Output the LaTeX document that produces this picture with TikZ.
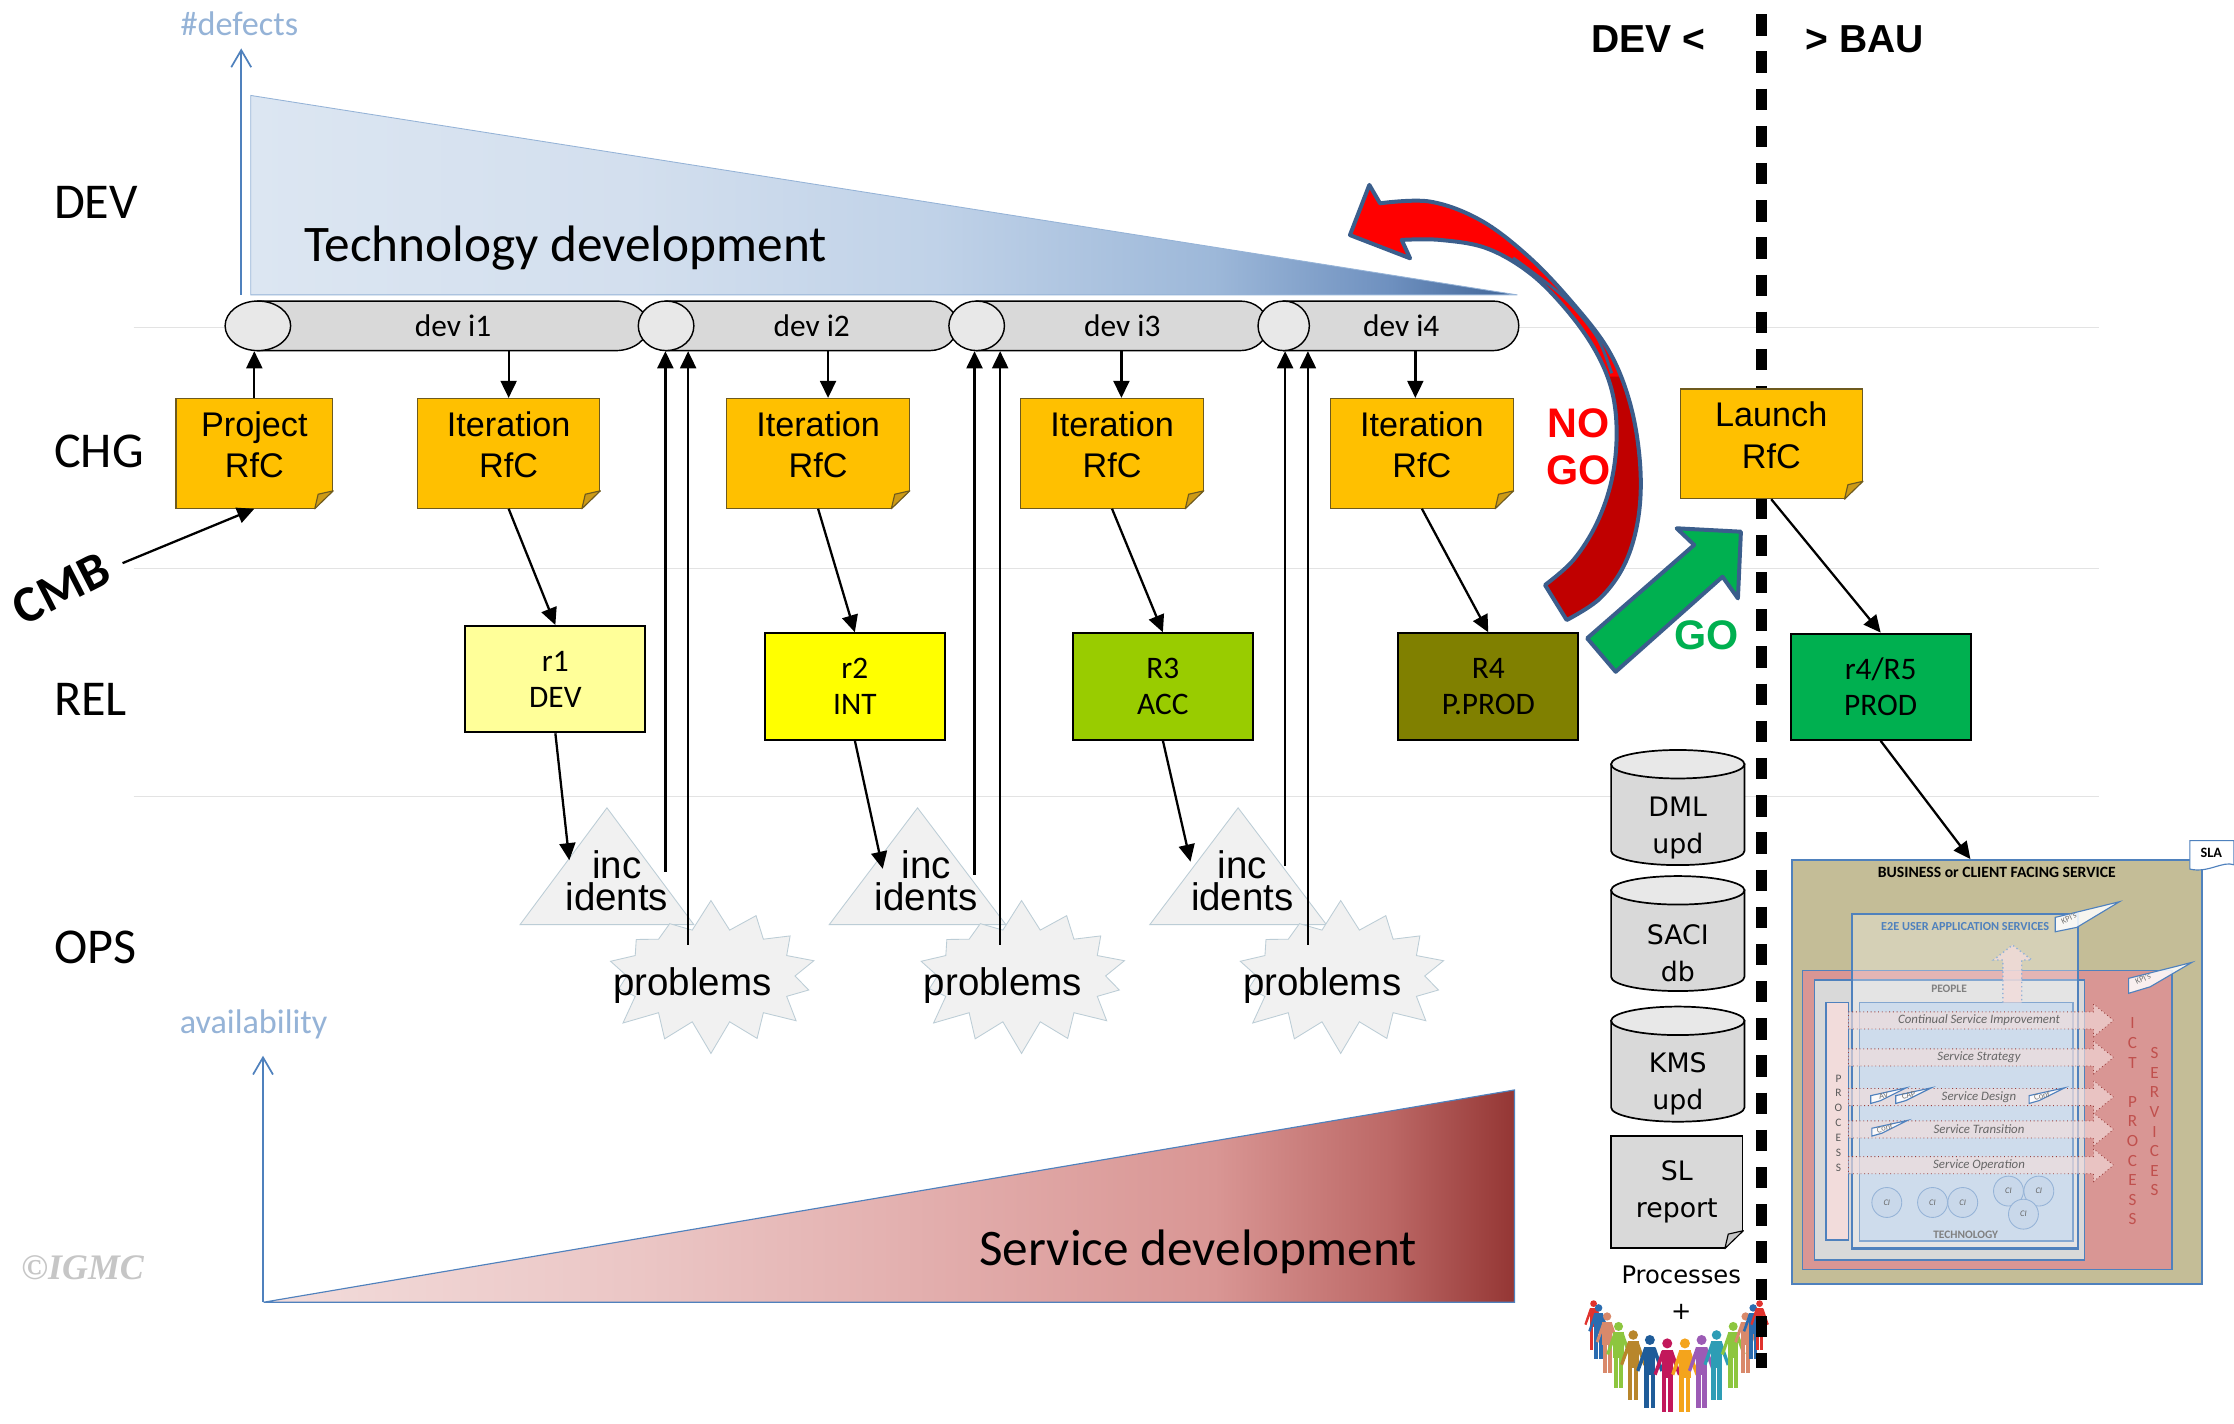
\documentclass[tikz,border=0pt]{standalone}
\usepackage{fontspec}
\setmainfont{Carlito}
\newfontfamily\arialfont{Liberation Sans}
\newfontfamily\verdanafont{DejaVu Sans}
\newfontfamily\timesfont{Liberation Serif}
\usepackage{xcolor}
\usepackage{tikz}
\usetikzlibrary{positioning,arrows.meta,shapes.symbols}

\definecolor{rfcfill}{HTML}{FFC000}
\definecolor{rfcedge}{HTML}{6E5A1E}
\definecolor{rfcfold}{HTML}{CC9A16}
\definecolor{axisblue}{HTML}{4F81BD}
\definecolor{axislight}{HTML}{95B3D7}
\definecolor{tubegray}{HTML}{D9D9D9}
\definecolor{tubeface}{HTML}{E8E8E8}
\definecolor{relA}{HTML}{FFFF99}
\definecolor{relB}{HTML}{FFFF00}
\definecolor{relC}{HTML}{99CC00}
\definecolor{relD}{HTML}{808000}
\definecolor{relE}{HTML}{00B050}
\definecolor{shapegray}{HTML}{F1F1F1}
\definecolor{shapeedge}{HTML}{BCCDD6}
\definecolor{gateedge}{HTML}{3B5E8C}
\definecolor{nogored}{HTML}{FF0000}
\definecolor{nogodark}{HTML}{C00000}
\definecolor{gogreen}{HTML}{00B050}
\definecolor{khaki}{HTML}{C4BD97}
\definecolor{ictred}{HTML}{D99694}
\definecolor{techblue}{HTML}{B9CDE5}
\definecolor{procpink}{HTML}{F2DCDB}
\definecolor{ictletter}{HTML}{C0504D}
\definecolor{cifill}{HTML}{C9D8EA}
\definecolor{techA}{HTML}{DCE6F2}
\definecolor{techB}{HTML}{D3DFEE}
\definecolor{techC}{HTML}{C0D2E8}
\definecolor{techD}{HTML}{9DB8D9}
\definecolor{techE}{HTML}{6E90BF}
\definecolor{techF}{HTML}{3F6496}
\definecolor{servA}{HTML}{F2DCDB}
\definecolor{servB}{HTML}{EBC6C5}
\definecolor{servC}{HTML}{E2ADAC}
\definecolor{servD}{HTML}{D99694}
\definecolor{servE}{HTML}{BC6866}
\definecolor{servF}{HTML}{943634}
\definecolor{pRed}{HTML}{E0322D}
\definecolor{pBlue}{HTML}{2B6CB0}
\definecolor{pSalmon}{HTML}{D9896B}
\definecolor{pGreen}{HTML}{8DC63F}
\definecolor{pBrown}{HTML}{B8862B}
\definecolor{pNavy}{HTML}{1F5C99}
\definecolor{pMagenta}{HTML}{C2185B}
\definecolor{pOrange}{HTML}{F4A41C}
\definecolor{pPurple}{HTML}{9C5BB5}
\definecolor{pTeal}{HTML}{2E9DB5}

\pgfdeclarehorizontalshading{techshade}{100bp}{color(0bp)=(techA); color(25bp)=(techA); color(40bp)=(techB); color(52bp)=(techC); color(63bp)=(techD); color(70bp)=(techE); color(75bp)=(techF); color(100bp)=(techF)}
\pgfdeclarehorizontalshading{servshade}{100bp}{color(0bp)=(servA); color(25bp)=(servA); color(40bp)=(servB); color(52bp)=(servC); color(63bp)=(servD); color(70bp)=(servE); color(75bp)=(servF); color(100bp)=(servF)}

% lying cylinder: left x, right x, end radius
\newcommand{\devtube}[3]{%
  \filldraw[fill=tubegray, line width=0.5pt] ({#1+#3},211.3) -- ({#2-#3},211.3) arc[start angle=90, end angle=-90, x radius=#3*0.5pt, y radius=8.7pt] -- ({#1+#3},246.1) -- cycle;
  \filldraw[fill=tubeface, line width=0.5pt] ({#1+#3},228.7) ellipse[x radius=#3*0.5pt, y radius=8.7pt];}
% folded corner on a note: node, fold colour, edge colour
\newcommand{\dogear}[3]{%
  \fill[white] ([yshift=6.3pt]#1.south east) -- ([xshift=1pt,yshift=6.3pt]#1.south east) -- ([xshift=1pt,yshift=-1pt]#1.south east) -- ([xshift=-6.5pt,yshift=-1pt]#1.south east) -- ([xshift=-6.5pt]#1.south east) -- cycle;
  \filldraw[fill=#2, draw=#3, line width=0.4pt, line join=round] ([yshift=6.3pt]#1.south east) -- ([xshift=-6.5pt]#1.south east) -- ([xshift=-5.3pt,yshift=5.1pt]#1.south east) -- cycle;}
% standing database: top y, bottom y
\newcommand{\dbcyl}[2]{%
  \filldraw[fill=tubegray, line width=0.6pt] (1130.8,{#1+10}) -- (1130.8,{#2-10}) arc[start angle=180, end angle=360, x radius=23.4pt, y radius=5pt] -- (1224.4,{#1+10}) -- cycle;
  \filldraw[fill=tubeface, line width=0.6pt] (1177.6,{#1+10}) ellipse[x radius=23.4pt, y radius=5pt];}
% one figure of the chain: x, y of head, scale, colour
\newcommand{\person}[4]{%
  \begin{scope}[shift={(#1,#2)}, scale=#3]
    \fill[#4] (0,0) circle[radius=3.3];
    \fill[#4] (-3.7,4.4) rectangle (3.7,23);
    \fill[#4] (-3.7,4.6) -- (-9,20) -- (-7,21) -- (-2.6,9) -- cycle;
    \fill[#4] (3.7,4.6) -- (9,20) -- (7,21) -- (2.6,9) -- cycle;
    \fill[#4] (-3.6,22) rectangle (-0.5,45);
    \fill[#4] (0.5,22) rectangle (3.6,45);
  \end{scope}}
% process band with arrow head: centre y, name, label
\newcommand{\procband}[3]{%
  \filldraw[fill=procpink, fill opacity=0.65, draw=ictletter!80!black, densely dotted, line width=0.3pt] (1297.4,{#1-6}) -- (1469.4,{#1-6}) -- (1469.4,{#1-11.5}) -- (1483.4,#1) -- (1469.4,{#1+11.5}) -- (1469.4,{#1+6}) -- (1297.4,{#1+6}) -- cycle;
  \node[bandtext] (#2) at (1389,#1) {#3};}
% small slanted tag: x, y of lower left, name, text
\newcommand{\bandtag}[4]{%
  \filldraw[bandtag] (#1,#2) -- (#1,{#2-5.5}) -- ({#1+25},{#2-11}) -- ({#1+7},{#2-2}) -- cycle;
  \node[tagtext, rotate=14] (#3) at ({#1+9},{#2-5.5}) {#4};}
\newcommand{\nogopath}{(947.5,165) -- (961.1,129.8) -- (968.6,142.7) -- plot[smooth, tension=0.6] coordinates {(968.6,142.7) (1003.7,141.5) (1038.8,154.4) (1071.6,179) (1102,210.6) (1128.9,245.7) (1144.1,283.1) (1151.1,325.2) (1150,362.7) (1140.6,395.4) (1123,420) (1099.6,435.2)} -- (1084.4,410.6) -- plot[smooth, tension=0.6] coordinates {(1084.4,410.6) (1104.3,393.1) (1120.7,367.3) (1131.2,336.9) (1134.7,304.2) (1131.2,273.7) (1119.5,245.7) (1099.6,217.6) (1073.9,191.8) (1043.5,174.3) (1010.7,168.4) (983.8,168.4)} -- (989.7,181.3) -- cycle}

\begin{document}
\begin{tikzpicture}[x=0.5pt, y=-0.5pt,
  lane/.style={draw=gray!22, line width=0.5pt},
  axisarrow/.style={draw=axisblue, line width=0.6pt, -{Straight Barb[length=6pt,width=7pt]}},
  axislabel/.style={text=axislight, inner sep=0pt, font=\fontsize{12}{14}\selectfont},
  lanelabel/.style={anchor=base west, inner sep=0pt, font=\fontsize{17.6}{20}\selectfont},
  bigtext/.style={anchor=base west, inner sep=0pt, font=\fontsize{18}{21}\selectfont},
  tube/.style={inner sep=0pt, minimum height=17.4pt, font=\fontsize{11}{13}\selectfont},
  rfc/.style={draw=rfcedge, fill=rfcfill, line width=0.4pt, minimum width=64pt, minimum height=38.5pt, inner sep=0pt, text depth=6pt, align=center, font=\arialfont\fontsize{12}{14.6}\selectfont},
  rel/.style={draw=black, line width=0.7pt, minimum width=63.2pt, minimum height=37.3pt, inner sep=0pt, align=center, font=\fontsize{11}{12.7}\selectfont},
  arrow/.style={-{Triangle[length=6pt,width=5.6pt]}, line width=0.8pt},
  inc/.style={inner sep=0pt, align=center, font=\arialfont\fontsize{13.5}{11.1}\selectfont},
  incshape/.style={fill=shapegray, draw=shapeedge, line width=0.3pt},
  prob/.style={starburst, starburst points=14, starburst point height=11pt, random starburst=7, fill=shapegray, draw=shapeedge, line width=0.3pt, minimum width=81pt, minimum height=55pt, inner sep=0pt},
  probtext/.style={inner sep=0pt, font=\arialfont\fontsize{13.5}{15}\selectfont},
  gate/.style={draw=gateedge, line width=1.4pt, line join=round},
  gatetext/.style={font=\arialfont\bfseries\fontsize{14.5}{16.5}\selectfont, align=center},
  sidelabel/.style={font=\arialfont\bfseries\fontsize{13.7}{16}\selectfont},
  divider/.style={line width=3.9pt, dash pattern=on 7.5pt off 5.55pt},
  db/.style={inner sep=0pt, align=center, font=\verdanafont\fontsize{9.4}{13}\selectfont},
  ci/.style={circle, draw=axislight, fill=cifill, line width=0.3pt, minimum size=10.5pt, inner sep=0pt, text=black!60, font=\itshape\fontsize{3}{3}\selectfont},
  bandtext/.style={text=black!60, inner sep=0pt, font=\itshape\fontsize{4.5}{5}\selectfont},
  bandtag/.style={fill=white, fill opacity=0.85, draw=axisblue, line width=0.4pt},
  tagtext/.style={text=black!55, inner sep=0pt, font=\fontsize{3}{3}\selectfont},
  boxline/.style={draw=axisblue, line width=0.5pt},
]
\fill[white] (0,0) rectangle (1568,999);
\useasboundingbox (0,0) rectangle (1568,999);

\draw[lane] (93.8,229.8) -- (1473.4,229.8);
\draw[lane] (93.8,398.9) -- (1473.4,398.9);
\draw[lane] (93.8,559.2) -- (1473.4,559.2);

\shadedraw[shading=techshade, draw=axisblue!60, line width=0.3pt] (176,67) -- (1065,207) -- (176,207) -- cycle;
\coordinate (defbase) at (169.3,207);
\coordinate (deftop) at (169.3,34);
\draw[axisarrow] (defbase) -- (deftop);
\node[axislabel] (defects) at (168,17) {\#defects};
\node[bigtext] (techdev) at (213,183.7) {Technology development};

\node[lanelabel] (devlbl) at (37.6,153.7) {DEV};
\node[lanelabel] (chglbl) at (37.6,328) {CHG};
\node[lanelabel] (rellbl) at (37.6,502.3) {REL};
\node[lanelabel] (opslbl) at (37.6,676.2) {OPS};

\devtube{158}{455}{23}
\devtube{448}{672}{19.5}
\devtube{666}{890}{19.5}
\devtube{883}{1066}{18}
\node[tube, minimum width=137pt] (dev1) at (318,228.7) {dev i1};
\node[tube, minimum width=102.25pt] (dev2) at (569.75,228.7) {dev i2};
\node[tube, minimum width=102.25pt] (dev3) at (787.75,228.7) {dev i3};
\node[tube, minimum width=82.5pt] (dev4) at (983.5,228.7) {dev i4};

\node[rfc, minimum width=55pt] (proj) at (178.5,318.2) {Project\\RfC};
\node[rfc] (iter1) at (357,318.2) {Iteration\\RfC};
\node[rfc] (iter2) at (574.2,318.2) {Iteration\\RfC};
\node[rfc] (iter3) at (780.5,318.2) {Iteration\\RfC};
\node[rfc] (iter4) at (998,318.2) {Iteration\\RfC};
\dogear{proj}{rfcfold}{rfcedge}
\dogear{iter1}{rfcfold}{rfcedge}
\dogear{iter2}{rfcfold}{rfcedge}
\dogear{iter3}{rfcfold}{rfcedge}
\dogear{iter4}{rfcfold}{rfcedge}
\draw[arrow] (proj.north) -- (proj.north |- dev1.south);
\draw[arrow] (iter1.north |- dev1.south) -- (iter1.north);
\draw[arrow] ([xshift=3.5pt]iter2.north |- dev2.south) -- ([xshift=3.5pt]iter2.north);
\draw[arrow] ([xshift=3.3pt]iter3.north |- dev3.south) -- ([xshift=3.3pt]iter3.north);
\draw[arrow] ([xshift=-2.3pt]iter4.north |- dev4.south) -- ([xshift=-2.3pt]iter4.north);

\node[rel, fill=relA] (r1) at (389.8,476.7) {r1\\DEV};
\node[rel, fill=relB] (r2) at (600,481.8) {r2\\INT};
\node[rel, fill=relC] (r3) at (816.2,481.8) {R3\\ACC};
\node[rel, fill=relD] (r4) at (1044.6,481.8) {R4\\P.PROD};
\draw[arrow] (iter1.south) -- (r1.north);
\draw[arrow] (iter2.south) -- (r2.north);
\draw[arrow] (iter3.south) -- (r3.north);
\draw[arrow] (iter4.south) -- (r4.north);

\filldraw[incshape] (426,567) -- (487,649) -- (365,649) -- cycle;
\filldraw[incshape] (644,567) -- (706,649) -- (582,649) -- cycle;
\filldraw[incshape] (869,567) -- (931,649) -- (807,649) -- cycle;
\node[prob, label={[probtext, name=prob1t, xshift=-6.5pt, yshift=-3.5pt]center:problems}] (prob1) at (499,685) {};
\node[prob, label={[probtext, name=prob2t, xshift=-6.5pt, yshift=-3.5pt]center:problems}] (prob2) at (717,685) {};
\node[prob, label={[probtext, name=prob3t, xshift=-6.5pt, yshift=-3.5pt]center:problems}] (prob3) at (941,685) {};
\node[inc] (inc1) at (433,618) {inc\\idents};
\node[inc] (inc2) at (650,618) {inc\\idents};
\node[inc] (inc3) at (872,618) {inc\\idents};
\draw[arrow] (r1.south) -- ([xshift=1.5pt,yshift=-3.6pt]inc1.north west);
\draw[arrow] (r2.south) -- ([xshift=3pt,yshift=-6.6pt]inc2.north west);
\draw[arrow] (r3.south) -- ([yshift=-4.1pt]inc3.north west);

\coordinate (up1a) at ([xshift=17pt,yshift=3pt]inc1.center);
\coordinate (up1b) at ([xshift=-8pt,yshift=11pt]prob1.center);
\coordinate (up2a) at ([xshift=17pt,yshift=2pt]inc2.center);
\coordinate (up2b) at ([xshift=-7.5pt,yshift=11pt]prob2.center);
\coordinate (up3a) at ([xshift=15pt,yshift=5pt]inc3.center);
\coordinate (up3b) at ([xshift=-11.5pt,yshift=11pt]prob3.center);
\draw[arrow] (up1a) -- (up1a |- dev2.south);
\draw[arrow] (up1b) -- (up1b |- dev2.south);
\draw[arrow] (up2a) -- (up2a |- dev3.south);
\draw[arrow] (up2b) -- (up2b |- dev3.south);
\draw[arrow] (up3a) -- (up3a |- dev4.south);
\draw[arrow] (up3b) -- (up3b |- dev4.south);

\fill[nogored] \nogopath;
\begin{scope}
  \clip \nogopath;
  \fill[nogodark] plot[smooth, tension=0.6] coordinates {(1137,264.4) (1144.1,283.1) (1151.1,325.2) (1150,362.7) (1140.6,395.4) (1123,420) (1099.6,435.2)} -- (1084.4,410.6) -- plot[smooth, tension=0.6] coordinates {(1084.4,410.6) (1104.3,393.1) (1120.7,367.3) (1131.2,336.9) (1134.7,304.2) (1131.2,273.7) (1127.7,264.4)} -- cycle;
\end{scope}
\draw[draw=gateedge, line width=1pt] plot[smooth] coordinates {(1062,181) (1097.3,208.2) (1120.7,236.3) (1131.2,262)};
\draw[gate] \nogopath;
\node[gatetext, text=nogored] (nogo) at (1108,313.5) {NO\\GO};

\filldraw[gate, fill=gogreen] (1114,448) -- (1189.1,382.5) -- (1176.8,370.8) -- (1221.9,373.2) -- (1219.8,420) -- (1209,404.8) -- (1134,471.5) -- cycle;
\node[gatetext, text=gogreen] (go) at (1198,446) {GO};

\shadedraw[shading=servshade, draw=axisblue, line width=0.4pt] (185,914) -- (1063,765) -- (1063,914) -- cycle;
\coordinate (avbase) at (184.6,914);
\coordinate (avtop) at (184.6,741);
\draw[axisarrow] (avbase) -- (avtop);
\node[axislabel] (avail) at (178,719) {availability};
\node[bigtext] (servdev) at (687,887.9) {Service development};
\node[text=gray!45, font=\timesfont\bfseries\itshape\fontsize{12.6}{14}\selectfont] (igmc) at (58,890) {\textcopyright IGMC};

\node[rotate=27, font=\bfseries\fontsize{18}{20}\selectfont] (cmb) at (43,413) {CMB};
\draw[arrow, shorten <=2pt] (cmb) -- (proj.south);

\dbcyl{526.4}{607.2}
\dbcyl{614.9}{695.6}
\dbcyl{706.5}{787.3}
\node[db] (dml) at (1177.6,581) {DML\\upd};
\node[db] (saci) at (1177.6,669) {SACI\\db};
\node[db] (kms) at (1177.6,760.5) {KMS\\upd};
\node[db, draw, fill=tubegray, line width=0.6pt, minimum width=46.1pt, minimum height=39.2pt] (slrep) at (1176.9,836.6) {SL\\report};
\dogear{slrep}{gray!45}{black}
\node[font=\verdanafont\fontsize{8.5}{10}\selectfont] (procs) at (1180,895) {Processes};
\node[below=2.5pt of procs, inner sep=1pt, font=\verdanafont\fontsize{8.5}{10}\selectfont] (plus) {+};

\person{1118.5}{915}{0.72}{pRed}
\person{1122}{918}{0.8}{pBlue}
\person{1128}{924}{0.88}{pSalmon}
\person{1136}{931}{0.96}{pGreen}
\person{1146.3}{937}{1.02}{pBrown}
\person{1158}{940.5}{1.06}{pNavy}
\person{1170.2}{942.9}{1.07}{pMagenta}
\person{1182.6}{942.9}{1.07}{pOrange}
\person{1194.3}{940.5}{1.06}{pPurple}
\person{1204.8}{937}{1.02}{pTeal}
\person{1216.5}{931}{0.96}{pGreen}
\person{1225.2}{924}{0.88}{pSalmon}
\person{1230.5}{918}{0.8}{pBlue}
\person{1235}{915}{0.72}{pRed}

\draw[divider] (1236.2,10) -- (1236.2,960);
\node[sidelabel] (devside) at (1157,27.3) {DEV <};
\node[sidelabel] (bauside) at (1309,27.3) {> BAU};

\node[rfc] (launch) at (1243.2,311.5) {Launch\\RfC};
\dogear{launch}{rfcfold}{rfcedge}
\node[rel, fill=relE] (r45) at (1320,482) {r4/R5\\PROD};
\draw[arrow] (launch.south) -- (r45.north);

\node[draw=axisblue, fill=khaki, line width=0.6pt, minimum width=143.8pt, minimum height=148.7pt, inner sep=0pt] (biz) at (1401.8,752.3) {};
\node[font=\bfseries\fontsize{5.5}{6}\selectfont] (biztitle) at (1401.5,612.5) {BUSINESS or CLIENT FACING SERVICE};
\filldraw[boxline, fill=ictred] (1265,681.3) rectangle (1524.4,891);
\filldraw[boxline, fill=gray!30] (1273.5,687.9) rectangle (1463,884.4);
\filldraw[boxline, fill=techblue] (1305,703.8) rectangle (1454.9,870.9);
\filldraw[boxline, fill=procpink] (1281.5,703.8) rectangle (1297.4,870.4);
\filldraw[draw=axisblue, line width=0.8pt, fill=white, fill opacity=0.3] (1299.7,641.5) rectangle (1458.4,876.3);
\node[text=axisblue, font=\bfseries\fontsize{4.3}{5}\selectfont] (e2e) at (1379.3,650) {E2E USER APPLICATION SERVICES};
\node[text=gray, font=\bfseries\fontsize{4}{5}\selectfont] (people) at (1368,693.7) {PEOPLE};
\node[text=gray, font=\bfseries\fontsize{4}{5}\selectfont] (techno) at (1379.7,866.4) {TECHNOLOGY};
\filldraw[fill=procpink, fill opacity=0.8, draw=axislight, densely dotted, line width=0.5pt] (1405.7,703.8) -- (1405.7,673.8) -- (1399.2,673.8) -- (1412.5,663.3) -- (1426.1,673.8) -- (1419,673.8) -- (1419,703.8);
\procband{716.2}{csi}{Continual Service Improvement}
\procband{742.2}{strat}{Service Strategy}
\procband{770}{design}{Service Design}
\procband{792.7}{trans}{Service Transition}
\procband{817.8}{oper}{Service Operation}
\bandtag{1313}{774.5}{avtag}{AV}
\bandtag{1330.6}{774.5}{captag}{CAP}
\bandtag{1424.2}{774.5}{conftag}{Conf}
\bandtag{1313.8}{797.4}{conftagb}{Conf}
\node[ci] (ci1) at (1324.3,844) {CI};
\node[ci] (ci2) at (1356.4,844) {CI};
\node[ci] (ci3) at (1377.6,844) {CI};
\node[ci] (ci4) at (1409.7,836) {CI};
\node[ci] (ci5) at (1431,836) {CI};
\node[ci] (ci6) at (1420.2,852.2) {CI};
\node[align=center, inner sep=0pt, text=gray!70!black, font=\fontsize{4}{5.2}\selectfont] (proccol) at (1290.4,788.2) {P\\R\\O\\C\\E\\S\\S};
\node[align=center, inner sep=0pt, text=ictletter, font=\fontsize{6}{6.88}\selectfont] (ictcol) at (1496.7,787.1) {I\\C\\T\\[6.88pt]P\\R\\O\\C\\E\\S\\S};
\node[align=center, inner sep=0pt, text=ictletter, font=\fontsize{6}{6.85}\selectfont] (svccol) at (1512.2,787.35) {S\\E\\R\\V\\I\\C\\E\\S};
\filldraw[bandtag] (1442.5,654) -- (1442.5,643.9) -- (1487.6,632.9) -- (1457.7,650.9) -- cycle;
\node[tagtext, rotate=25] (kpi1) at (1452,644.5) {KPI's};
\filldraw[bandtag] (1494,697.2) -- (1494,686.7) -- (1538.4,675.5) -- (1509.2,692.6) -- cycle;
\node[tagtext, rotate=25] (kpi2) at (1504,687) {KPI's};
\filldraw[fill=white, draw=axisblue, line width=0.4pt] (1537,590) -- (1568,590) -- (1568,607) .. controls (1560,604) and (1550,613) .. (1537,610) -- cycle;
\node[font=\bfseries\fontsize{5}{6}\selectfont] (sla) at (1552,598.5) {SLA};
\draw[arrow] (r45.south) -- ([xshift=-9.4pt]biz.north);
\end{tikzpicture}
\end{document}
